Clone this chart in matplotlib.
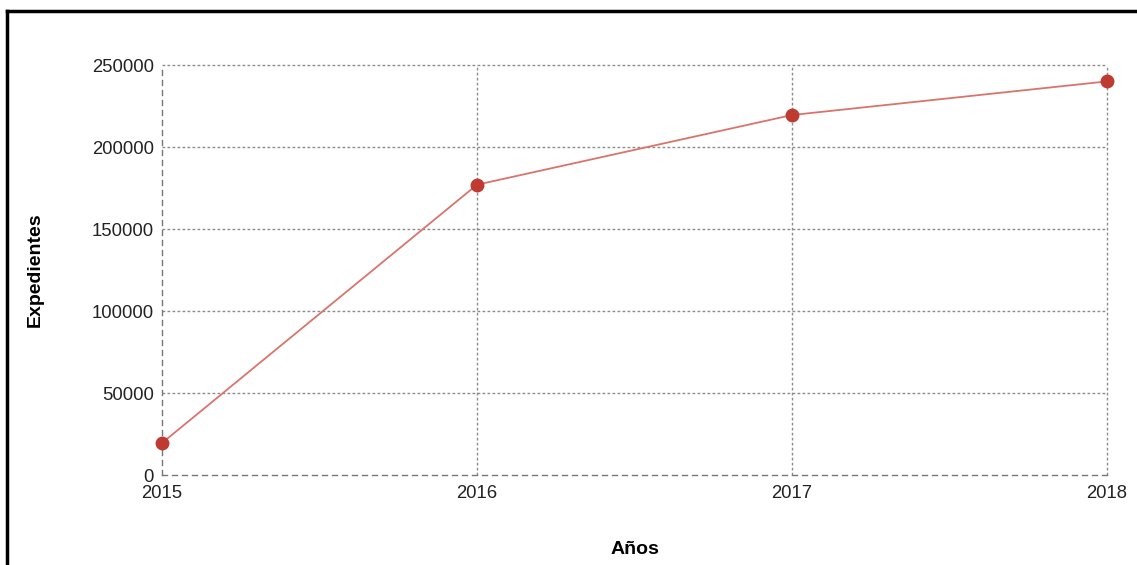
import matplotlib
matplotlib.use("Agg")
import matplotlib.pyplot as plt
from matplotlib.lines import Line2D

years = [2015, 2016, 2017, 2018]
expedientes = [19500, 177000, 219500, 240000]
yticks = [0, 50000, 100000, 150000, 200000, 250000]

plt.rcParams['font.family'] = ['Liberation Sans', 'DejaVu Sans']

W, H = 1137, 565
fig = plt.figure(figsize=(W / 100, H / 100), dpi=100)
ax = fig.add_axes([162 / W, 1 - 475 / H, (1107 - 162) / W, (475 - 65) / H])

ax.plot(years, expedientes, color='#d9746c', linewidth=1.3, zorder=3, clip_on=False)
ax.plot(years, expedientes, linestyle='none', marker='o', markersize=10,
        color='#bf3b32', markeredgewidth=0, zorder=4, clip_on=False)

ax.set_xlim(2015, 2018)
ax.set_ylim(0, 250000)
ax.set_xticks(years)
ax.set_yticks(yticks)
ax.set_xticklabels([str(y) for y in years])
ax.set_yticklabels([str(v) for v in yticks])
ax.tick_params(axis='both', length=0, labelsize=13.3, colors='#222222')
ax.tick_params(axis='y', pad=6)
ax.tick_params(axis='x', pad=7)

grid_color = '#8c8c8c'
for v in yticks[1:]:
    ax.axhline(v, color=grid_color, linewidth=1, linestyle=(0, (2, 1.6)), zorder=1, clip_on=False)
for yr in years[1:]:
    ax.axvline(yr, color=grid_color, linewidth=1, linestyle=(0, (2, 1.6)), zorder=1, clip_on=False)

for s in ['top', 'right']:
    ax.spines[s].set_visible(False)
for s in ['left', 'bottom']:
    ax.spines[s].set_color('#777777')
    ax.spines[s].set_linestyle((0, (3.6, 3.6)))
    ax.spines[s].set_linewidth(1.0)

ax.set_xlabel('Años', fontsize=14, fontweight='bold')
ax.set_ylabel('Expedientes', fontsize=14, fontweight='bold')
ax.yaxis.set_label_coords((44 - 162) / (1107 - 162), 0.5)
ax.xaxis.set_label_coords(0.5, -(541 - 475) / (475 - 65))

# outer frame lines (top and left)
fig.add_artist(Line2D([7 / W, 1], [1 - 11 / H, 1 - 11 / H], color='black', linewidth=2.5,
                      transform=fig.transFigure))
fig.add_artist(Line2D([7 / W, 7 / W], [1 - 11 / H, 1 - 563 / H], color='black', linewidth=2.5,
                      transform=fig.transFigure))

fig.savefig('out.png', dpi=100)
